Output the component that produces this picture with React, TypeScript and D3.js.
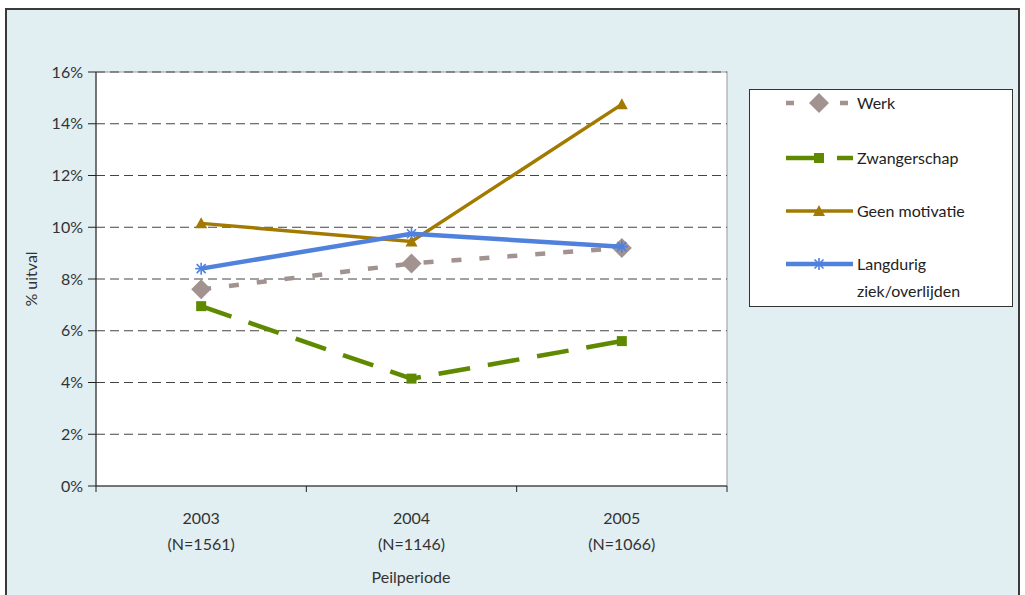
import React from "react";
import * as d3 from "d3";

const categories = ["2003", "2004", "2005"];
const categorySub = ["(N=1561)", "(N=1146)", "(N=1066)"];
const yTicks = [0, 2, 4, 6, 8, 10, 12, 14, 16];
const werk = [7.6, 8.6, 9.2];
const zwangerschap = [6.95, 4.15, 5.6];
const geenMotivatie = [10.15, 9.45, 14.75];
const langdurig = [8.4, 9.75, 9.25];

const seriesNames = ["Werk", "Zwangerschap", "Geen motivatie", "Langdurig ziek/overlijden"];

const W = 1025, H = 595;
const M = { left: 96, right: 727, top: 72, bottom: 486 };
const FONT = "Lato, 'Open Sans', sans-serif";

const series = [
  { name: seriesNames[0], values: werk, color: "#a29391", width: 4.5, dash: "10 18", marker: "diamond" },
  { name: seriesNames[1], values: zwangerschap, color: "#5f8a00", width: 4.5, dash: "32 18", marker: "square" },
  { name: seriesNames[2], values: geenMotivatie, color: "#a37a00", width: 3.5, dash: null, marker: "triangle" },
  { name: seriesNames[3], values: langdurig, color: "#4f81dd", width: 4.5, dash: null, marker: "star" },
];

function Marker({ type, x, y, color }: { type: string; x: number; y: number; color: string }) {
  if (type === "diamond") {
    const r = 10;
    return <path d={`M${x},${y - r}L${x + r},${y}L${x},${y + r}L${x - r},${y}Z`} fill={color} />;
  }
  if (type === "square") {
    return <rect x={x - 5} y={y - 5} width={10} height={10} fill={color} />;
  }
  if (type === "triangle") {
    return <path d={`M${x},${y - 6}L${x + 6},${y + 5}L${x - 6},${y + 5}Z`} fill={color} />;
  }
  const r = 6;
  return (
    <g stroke={color} strokeWidth={1.6}>
      <line x1={x - r} y1={y} x2={x + r} y2={y} />
      <line x1={x} y1={y - r} x2={x} y2={y + r} />
      <line x1={x - r * 0.75} y1={y - r * 0.75} x2={x + r * 0.75} y2={y + r * 0.75} />
      <line x1={x - r * 0.75} y1={y + r * 0.75} x2={x + r * 0.75} y2={y - r * 0.75} />
    </g>
  );
}

export default function App() {
  const x = d3.scaleBand<string>().domain(categories).range([M.left, M.right]);
  const y = d3.scaleLinear().domain([0, 16]).range([M.bottom, M.top]);
  const cx = (c: string) => (x(c) as number) + x.bandwidth() / 2;
  const line = d3
    .line<number>()
    .x((_, i) => cx(categories[i]))
    .y((v) => y(v));

  const legendY = [103, 158, 211, 264];
  const lx1 = 786, lx2 = 853, lmid = 819;

  return (
    <svg width={W} height={H} style={{ position: "absolute", left: 0, top: 0 }}>
      <rect x={6} y={9} width={1013} height={600} fill="#e1eef2" stroke="#3a3a3a" strokeWidth={2} />
      <rect x={M.left} y={M.top} width={M.right - M.left} height={M.bottom - M.top} fill="#ffffff" stroke="#9a9a9a" strokeWidth={1} />
      {yTicks.map((t) => (
        <g key={t}>
          {t > 0 && (
            <line x1={M.left} x2={M.right} y1={y(t)} y2={y(t)} stroke="#444" strokeWidth={1} strokeDasharray="9 5" />
          )}
          <line x1={M.left - 8} x2={M.left} y1={y(t)} y2={y(t)} stroke="#222" />
          <text x={M.left - 13} y={y(t)} dy="0.35em" textAnchor="end" fontFamily={FONT} fontSize={16} fill="#333">
            {t}%
          </text>
        </g>
      ))}
      <line x1={M.left} x2={M.left} y1={M.top} y2={M.bottom} stroke="#222" />
      <line x1={M.left} x2={M.right} y1={M.bottom} y2={M.bottom} stroke="#222" />
      {[0, 1, 2, 3].map((i) => {
        const xx = M.left + i * x.step();
        return <line key={i} x1={xx} x2={xx} y1={M.bottom} y2={M.bottom + 6} stroke="#222" />;
      })}
      {categories.map((c, i) => (
        <g key={c}>
          <text x={cx(c)} y={524} textAnchor="middle" fontFamily={FONT} fontSize={16} fill="#333">{c}</text>
          <text x={cx(c)} y={550} textAnchor="middle" fontFamily={FONT} fontSize={16} fill="#333">{categorySub[i]}</text>
        </g>
      ))}
      <text x={411} y={583} textAnchor="middle" fontFamily={FONT} fontSize={16} fill="#333">Peilperiode</text>
      <text transform={`translate(37,${(M.top + M.bottom) / 2}) rotate(-90)`} textAnchor="middle" fontFamily={FONT} fontSize={16} fill="#333">% uitval</text>

      {series.map((s) => (
        <g key={s.name}>
          <path d={line(s.values) || ""} fill="none" stroke={s.color} strokeWidth={s.width} strokeDasharray={s.dash || undefined} />
          {s.values.map((v, i) => (
            <Marker key={i} type={s.marker} x={cx(categories[i])} y={y(v)} color={s.color} />
          ))}
        </g>
      ))}

      <rect x={749.5} y={89.5} width={263} height={217} fill="#ffffff" stroke="#333" strokeWidth={1} />
      {series.map((s, i) => (
        <g key={s.name}>
          <line x1={lx1} x2={lx2} y1={legendY[i]} y2={legendY[i]} stroke={s.color} strokeWidth={s.width}
            strokeDasharray={i === 0 ? "8 19" : i === 1 ? "34 17" : undefined} />
          <Marker type={s.marker} x={lmid} y={legendY[i]} color={s.color} />
        </g>
      ))}
      <text x={857} y={legendY[0]} dy="0.35em" fontFamily={FONT} fontSize={16} fill="#222">Werk</text>
      <text x={857} y={legendY[1]} dy="0.35em" fontFamily={FONT} fontSize={16} fill="#222">Zwangerschap</text>
      <text x={857} y={legendY[2]} dy="0.35em" fontFamily={FONT} fontSize={16} fill="#222">Geen motivatie</text>
      <text x={857} y={legendY[3]} dy="0.35em" fontFamily={FONT} fontSize={16} fill="#222">Langdurig</text>
      <text x={857} y={legendY[3] + 27} dy="0.35em" fontFamily={FONT} fontSize={16} fill="#222">ziek/overlijden</text>
    </svg>
  );
}
